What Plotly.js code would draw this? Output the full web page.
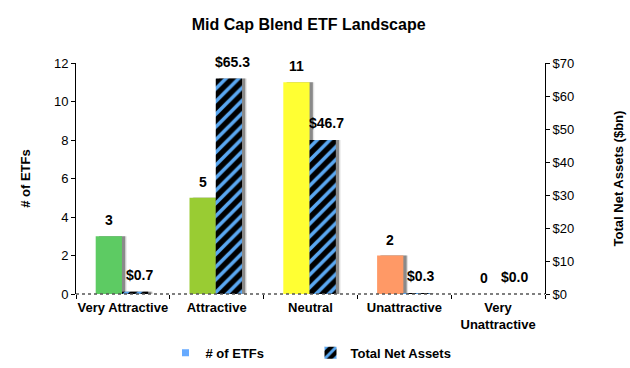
<!DOCTYPE html>
<html>
<head>
<meta charset="utf-8">
<script src="https://cdn.plot.ly/plotly-3.0.1.min.js"></script>
<style>html,body{margin:0;padding:0;background:#fff;}#chart{width:630px;height:368px;}</style>
</head>
<body>
<div id="chart"></div>
<script>
var categories = ["Very Attractive", "Attractive", "Neutral", "Unattractive", "Very<br>Unattractive"];
var etfCounts = [3, 5, 11, 2, 0];
var totalNetAssets = [0.7, 65.3, 46.7, 0.3, 0.0];
var etfColors = ["#5DCB63", "#99CC33", "#FFFF33", "#FF9966", "#FF3333"];
var leftTicks = [0, 2, 4, 6, 8, 10, 12];
var rightTicks = [0, 10, 20, 30, 40, 50, 60, 70];
var rightTickLabels = rightTicks.map(function (v) { return "$" + v; });

var FONT = "Liberation Sans, Arial, sans-serif";
var W = 0.28, OFF_ETF = -0.29, OFF_TNA = -0.01, SH = 0.035;
var L = 76, R = 85, PLOT_W = 630 - L - R;
var CAT_PX = PLOT_W / categories.length;

var traces = [
  // shadows
  {type: "bar", x: categories, y: etfCounts, width: W, offset: OFF_ETF + SH + 0.015,
   marker: {color: "#e2e2e2"}, showlegend: false, hoverinfo: "skip"},
  {type: "bar", x: categories, y: etfCounts, width: W, offset: OFF_ETF + SH,
   marker: {color: "#8a8a8a"}, showlegend: false, hoverinfo: "skip"},
  {type: "bar", x: categories, y: totalNetAssets, yaxis: "y2", width: W, offset: OFF_TNA + SH + 0.015,
   marker: {color: "#e2e2e2"}, showlegend: false, hoverinfo: "skip"},
  {type: "bar", x: categories, y: totalNetAssets, yaxis: "y2", width: W, offset: OFF_TNA + SH,
   marker: {color: "#8a8a8a"}, showlegend: false, hoverinfo: "skip"},
  // main bars
  {type: "bar", name: "# of ETFs", x: categories, y: etfCounts, width: W, offset: OFF_ETF,
   marker: {color: etfColors}, showlegend: false},
  {type: "scatter", mode: "markers", name: "# of ETFs", x: [null], y: [null],
   marker: {symbol: "square", size: 7, color: "#66AAFF"}, showlegend: true, legendrank: 1},
  {type: "bar", name: "Total Net Assets", x: categories, y: totalNetAssets, yaxis: "y2",
   width: W, offset: OFF_TNA, legendrank: 2,
   marker: {color: "#000", pattern: {shape: "/", fgcolor: "#5AA8F2", bgcolor: "#000", size: 9, solidity: 0.4}}}
];

var annotations = [];
var labelFont = {family: FONT, size: 14, color: "#000", weight: "bold"};
categories.forEach(function (c, i) {
  annotations.push({x: c, y: etfCounts[i], xref: "x", yref: "y", showarrow: false,
    text: String(etfCounts[i]), font: labelFont, yanchor: "bottom", yshift: 6,
    xshift: (OFF_ETF + W / 2) * CAT_PX});
  annotations.push({x: c, y: totalNetAssets[i], xref: "x", yref: "y2", showarrow: false,
    text: "$" + totalNetAssets[i].toFixed(1), font: labelFont, yanchor: "bottom", yshift: 7,
    xshift: (OFF_TNA + W / 2) * CAT_PX + 4});
});

var layout = {
  width: 630, height: 368,
  margin: {l: L, r: R, t: 63, b: 74, autoexpand: false},
  paper_bgcolor: "#fff", plot_bgcolor: "#fff",
  font: {family: FONT, color: "#000", size: 12},
  title: {text: "<b>Mid Cap Blend ETF Landscape</b>", x: 0.49, xanchor: "center", y: 0.95,
          font: {family: FONT, size: 16, color: "#000"}},
  barmode: "overlay",
  showlegend: true,
  legend: {orientation: "h", x: 0.5, xanchor: "center", y: -0.255, yanchor: "middle",
           font: {family: FONT, size: 13, weight: "bold"}, traceorder: "normal",
           entrywidth: 100, itemwidth: 30},
  xaxis: {type: "category", tickson: "boundaries", ticks: "outside", ticklen: 4, tickcolor: "#000",
          tickangle: 0, ticklabelstandoff: 4,
          showline: false, showgrid: false, zeroline: false, fixedrange: true, automargin: false,
          tickfont: {family: FONT, size: 13, weight: "bold"}},
  yaxis: {range: [0, 12], tickvals: leftTicks, ticks: "outside", ticklen: 4, tickcolor: "#000",
          showline: true, linecolor: "#000", linewidth: 1, showgrid: false, zeroline: false, automargin: false,
          tickfont: {family: FONT, size: 13},
          title: {text: "<b># of ETFs</b>", font: {family: FONT, size: 13}, standoff: 20}},
  yaxis2: {range: [0, 70], tickvals: rightTicks, ticktext: rightTickLabels, overlaying: "y", side: "right",
           ticks: "outside", ticklen: 4, tickcolor: "#000", automargin: false,
           showline: true, linecolor: "#000", linewidth: 1, showgrid: false, zeroline: false,
           tickfont: {family: FONT, size: 13},
           title: {text: "<b>Total Net Assets ($bn)</b>", font: {family: FONT, size: 13}, standoff: 40}},
  annotations: annotations,
  shapes: [{type: "line", xref: "paper", yref: "paper", x0: 0, x1: 1, y0: 0, y1: 0,
            line: {color: "#555", width: 1.5, dash: "dot"}}]
};

Plotly.newPlot("chart", traces, layout, {displayModeBar: false, staticPlot: true});
</script>
</body>
</html>
